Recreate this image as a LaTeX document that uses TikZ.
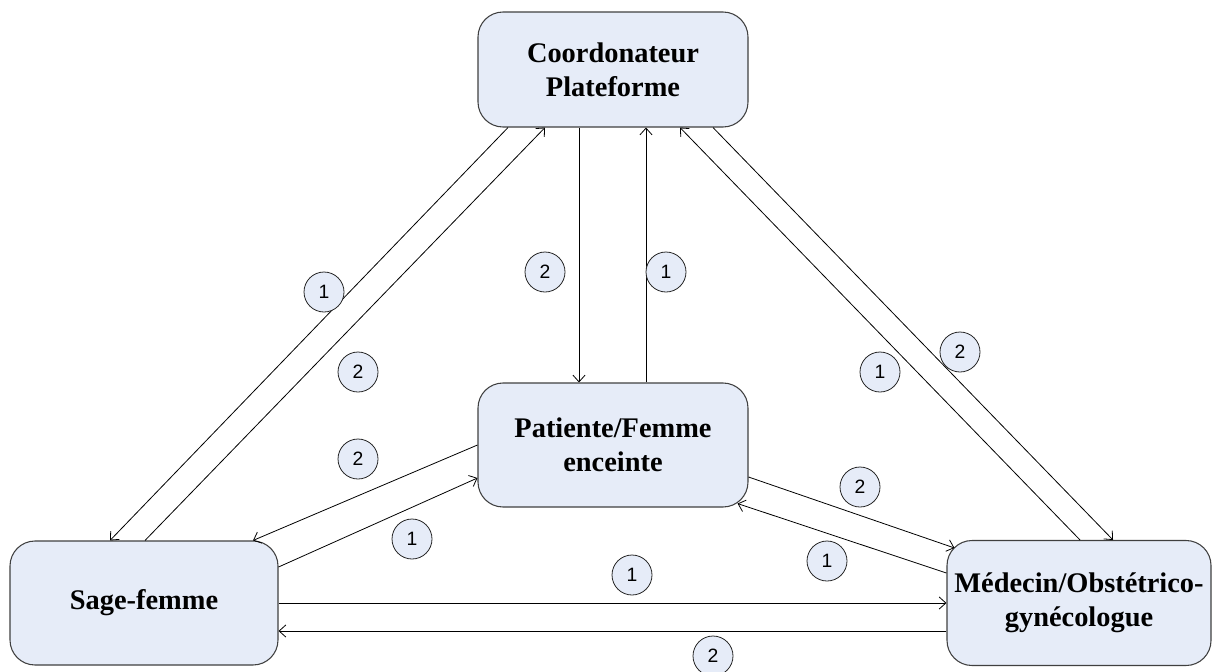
\documentclass[tikz,border=0pt]{standalone}
\usepackage{fontspec}
\setmainfont{Liberation Serif}
\newfontfamily\numfont{Liberation Sans}
\usetikzlibrary{arrows.meta}
\definecolor{boxfill}{RGB}{230,236,248}
\begin{document}
\begin{tikzpicture}[x=0.75pt,y=-0.75pt,
 actor/.style={draw=black!75, line width=0.8pt, fill=boxfill, rounded corners=18.75pt, align=center, font=\fontsize{21.3}{25.5}\selectfont\bfseries, inner sep=0pt},
 num/.style={circle, draw=black!85, line width=0.6pt, fill=boxfill, minimum size=30pt, inner sep=0pt, font=\fontsize{14.5}{15}\selectfont\numfont},
 link/.style={line width=0.6pt, -{Straight Barb[length=5pt,width=9pt]}}]
\useasboundingbox (0,0) rectangle (1212,671);
\node[actor, minimum width=202.5pt, minimum height=86.25pt, text depth=-4pt] (cp) at (613,69.5) {Coordonateur\\Plateforme};
\node[actor, minimum width=202.5pt, minimum height=93pt] (pf) at (613,445) {Patiente/Femme\\enceinte};
\node[actor, minimum width=201pt, minimum height=93pt] (sf) at (144,603) {Sage-femme};
\node[actor, minimum width=198pt, minimum height=93.75pt] (md) at (1079,603) {M\'edecin/Obst\'etrico-\\gyn\'ecologue};

\draw[link] ([shift={(-105,0)}]cp.south) -- ([shift={(-34,0)}]sf.north);
\draw[link] ([shift={(1,0)}]sf.north) -- ([shift={(-68,0)}]cp.south);
\draw[link] ([shift={(-34,0)}]cp.south) -- ([shift={(-34,0)}]pf.north);
\draw[link] ([shift={(33,0)}]pf.north) -- ([shift={(33,0)}]cp.south);
\draw[link] ([shift={(1,0)}]md.north) -- ([shift={(67,0)}]cp.south);
\draw[link] ([shift={(100,0)}]cp.south) -- ([shift={(34,0)}]md.north);
\draw[link] (pf.west) -- ([shift={(109,0)}]sf.north);
\draw[link] ([shift={(0,-36)}]sf.east) -- ([shift={(0,33)}]pf.west);
\draw[link] ([shift={(0,32)}]pf.east) -- ([shift={(8,8)}]md.north west);
\draw[link] ([shift={(0,-30)}]md.west) -- ([shift={(-11,-4)}]pf.south east);
\draw[link] (sf.east) -- (md.west);
\draw[link] ([shift={(0,28)}]md.west) -- ([shift={(0,28)}]sf.east);

\node[num] (n1) at (324,292) {1};
\node[num] (n2) at (358,372) {2};
\node[num] (n3) at (545,272) {2};
\node[num] (n4) at (666,272) {1};
\node[num] (n5) at (880,372) {1};
\node[num] (n6) at (960,352) {2};
\node[num] (n7) at (358,459) {2};
\node[num] (n8) at (412,539) {1};
\node[num] (n9) at (860,487) {2};
\node[num] (n10) at (827,561) {1};
\node[num] (n11) at (632,575) {1};
\node[num] (n12) at (713,656) {2};
\end{tikzpicture}
\end{document}
